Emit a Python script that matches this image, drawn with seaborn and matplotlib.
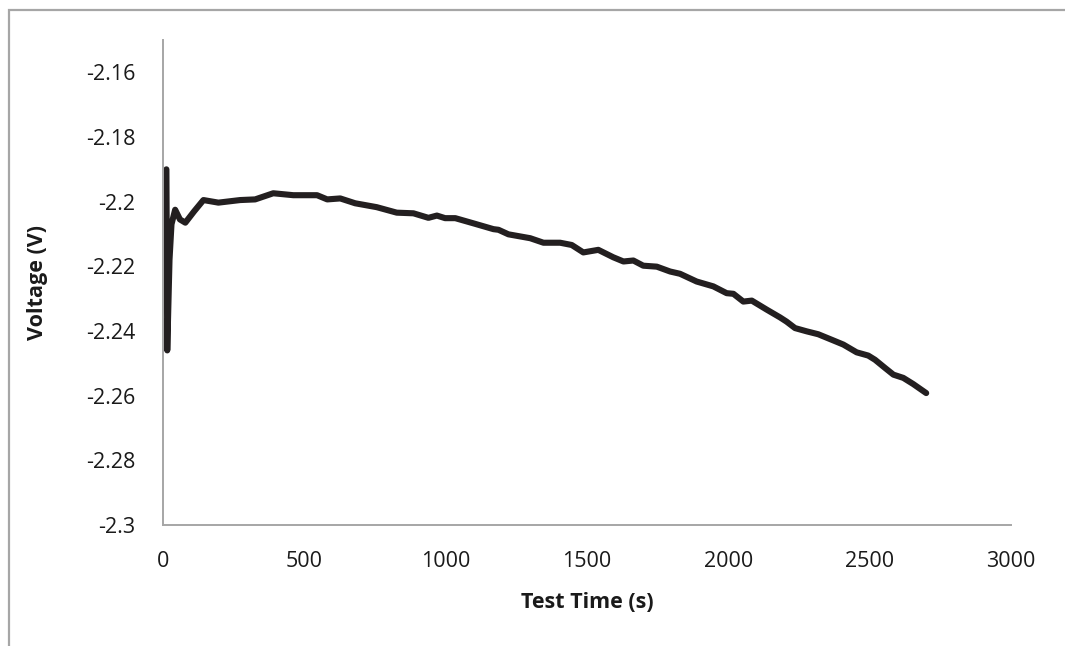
import numpy as np
import pandas as pd
import seaborn as sns
import matplotlib
matplotlib.use("Agg")
import matplotlib.pyplot as plt
from matplotlib.patches import Rectangle

# Discharge curve: test time (s) vs cell voltage (V)
test_time = [12, 15, 23, 30, 43, 60, 79, 110, 143, 196, 273, 326, 390, 461,
             545, 581, 627, 680, 756, 827, 886, 939, 969, 998, 1034, 1098,
             1169, 1187, 1222, 1299, 1346, 1405, 1446, 1487, 1540, 1593,
             1629, 1664, 1699, 1747, 1794, 1829, 1888, 1947, 1994, 2018,
             2053, 2083, 2136, 2183, 2206, 2236, 2277, 2318, 2371, 2407,
             2454, 2495, 2519, 2554, 2584, 2619, 2654, 2700]
voltage = [-2.1900, -2.2460, -2.2180, -2.2070, -2.2025, -2.2055, -2.2065,
           -2.2030, -2.1995, -2.2003, -2.1995, -2.1993, -2.1974, -2.1980,
           -2.1980, -2.1993, -2.1990, -2.2005, -2.2017, -2.2034, -2.2036,
           -2.2050, -2.2043, -2.2051, -2.2051, -2.2067, -2.2085, -2.2087,
           -2.2101, -2.2113, -2.2127, -2.2127, -2.2134, -2.2157, -2.2149,
           -2.2172, -2.2185, -2.2182, -2.2198, -2.2201, -2.2216, -2.2223,
           -2.2247, -2.2262, -2.2283, -2.2285, -2.2309, -2.2306, -2.2334,
           -2.2358, -2.2371, -2.2391, -2.2401, -2.2410, -2.2429, -2.2442,
           -2.2466, -2.2476, -2.2489, -2.2514, -2.2535, -2.2545, -2.2564,
           -2.2592]

x_ticks = [0, 500, 1000, 1500, 2000, 2500, 3000]
y_ticks = [-2.3, -2.28, -2.26, -2.24, -2.22, -2.2, -2.18, -2.16]
y_tick_labels = ["-2.3", "-2.28", "-2.26", "-2.24", "-2.22", "-2.2", "-2.18", "-2.16"]

df = pd.DataFrame({"Test Time (s)": test_time, "Voltage (V)": voltage})

sns.set_style("white")
plt.rcParams["font.family"] = ["Open Sans", "DejaVu Sans"]

W, H = 1065, 646
fig = plt.figure(figsize=(W / 100, H / 100), dpi=100)
ax = fig.add_axes([163 / W, 1 - 525 / H, (1011 - 163) / W, (525 - 40) / H])

sns.lineplot(data=df, x="Test Time (s)", y="Voltage (V)", ax=ax,
             color="#231f20", linewidth=4.4, sort=False,
             solid_joinstyle="round", solid_capstyle="round")

ax.set_xlim(0, 3000)
ax.set_ylim(-2.3, -2.15)
ax.set_xticks(x_ticks)
ax.set_xticklabels([str(v) for v in x_ticks])
ax.set_yticks(y_ticks)
ax.set_yticklabels(y_tick_labels)

axis_grey = "#a6a6a6"
for side in ("top", "right"):
    ax.spines[side].set_visible(False)
for side in ("left", "bottom"):
    ax.spines[side].set_color(axis_grey)
    ax.spines[side].set_linewidth(1.4)

ax.tick_params(axis="both", direction="in", length=5, width=1.2,
               color=axis_grey, labelsize=15.5, labelcolor="#1a1a1a")
ax.tick_params(axis="y", pad=20)
ax.tick_params(axis="x", pad=19)

ax.set_xlabel("Test Time (s)", fontsize=15.5, fontweight="bold",
              color="#1a1a1a", labelpad=14)
ax.set_ylabel("Voltage (V)", fontsize=15.5, fontweight="bold",
              color="#1a1a1a", labelpad=27)

# Outer chart frame (runs off the right and bottom edges)
fig.patches.append(Rectangle((9 / W, -0.2), 1.5, 1 - 10 / H + 0.2,
                             transform=fig.transFigure, fill=False,
                             edgecolor=axis_grey, linewidth=1.6))

fig.savefig("out.png", dpi=100, facecolor="white")
